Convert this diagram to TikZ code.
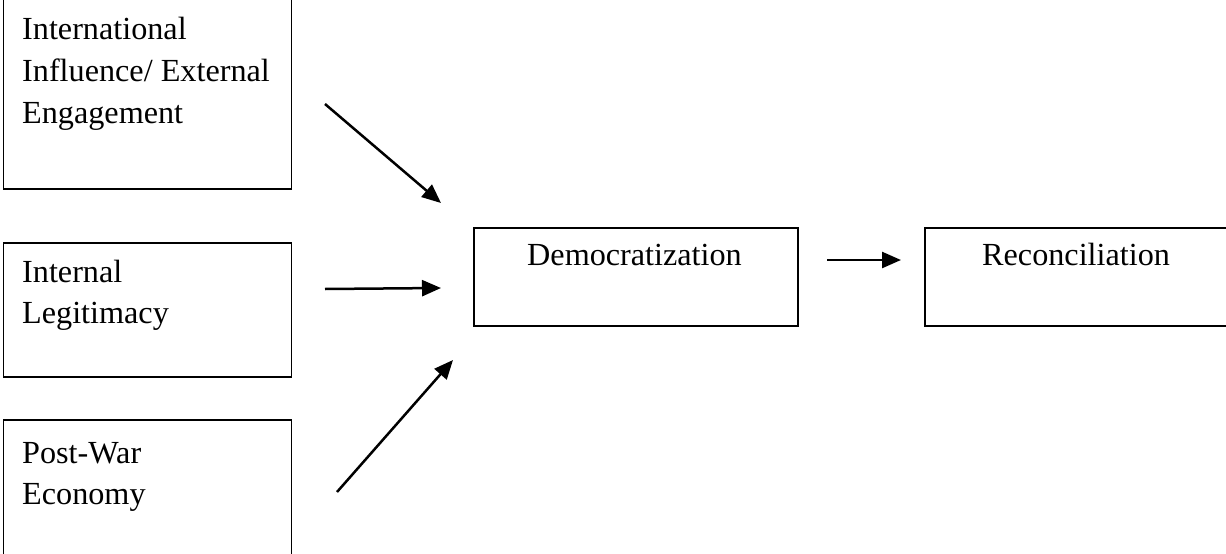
\documentclass[tikz,border=0pt]{standalone}
\usepackage{fontspec}
\setmainfont{Liberation Serif}
\usetikzlibrary{arrows.meta}
\begin{document}
\begin{tikzpicture}[x=1pt,y=-1pt,
  box/.style={draw,line width=1.6pt,rectangle,inner sep=0pt},
  lbl/.style={anchor=base west,inner sep=0pt,font=\fontsize{32.2}{41}\selectfont},
  conn/.style={line width=2.5pt,-{Triangle[length=19pt,width=16pt]}}]
\useasboundingbox (0,0) rectangle (1226,554);
\clip (0,0) rectangle (1226,554);
% boxes
\node[box,minimum width=288pt,minimum height=195pt,anchor=south west] (b1) at (2.5,190) {};
\node[box,minimum width=288pt,minimum height=134pt,anchor=north west] (b2) at (2.5,242) {};
\node[box,minimum width=288pt,minimum height=145pt,anchor=north west] (b3) at (2.5,419) {};
\node[box,minimum width=324pt,minimum height=98pt,anchor=north west] (dem) at (473,227) {};
\node[box,minimum width=310pt,minimum height=98pt,anchor=north west] (rec) at (924,227) {};
% labels
\node[lbl] (t1a) at (22,39) {International};
\node[lbl] (t1b) at (22,81) {Influence/ External};
\node[lbl] (t1c) at (22,123) {Engagement};
\node[lbl] (t2a) at (22,282) {Internal};
\node[lbl] (t2b) at (22,323) {Legitimacy};
\node[lbl] (t3a) at (22,463) {Post-War};
\node[lbl] (t3b) at (22,504) {Economy};
\node[lbl] (tdem) at (527,265) {Democratization};
\node[lbl] (trec) at (982,265) {Reconciliation};
% arrow endpoints
\coordinate (a1s) at (325,104);
\coordinate (a1e) at (441,203);
\coordinate (a2s) at (325,289);
\coordinate (a2e) at (441,288);
\coordinate (a3s) at (337,492);
\coordinate (a3e) at (453,360);
\coordinate (a4s) at (827,260);
\coordinate (a4e) at (901,260);
\draw[conn] (a1s) -- (a1e);
\draw[conn] (a2s) -- (a2e);
\draw[conn] (a3s) -- (a3e);
\draw[conn] (a4s) -- (a4e);
\end{tikzpicture}
\end{document}
